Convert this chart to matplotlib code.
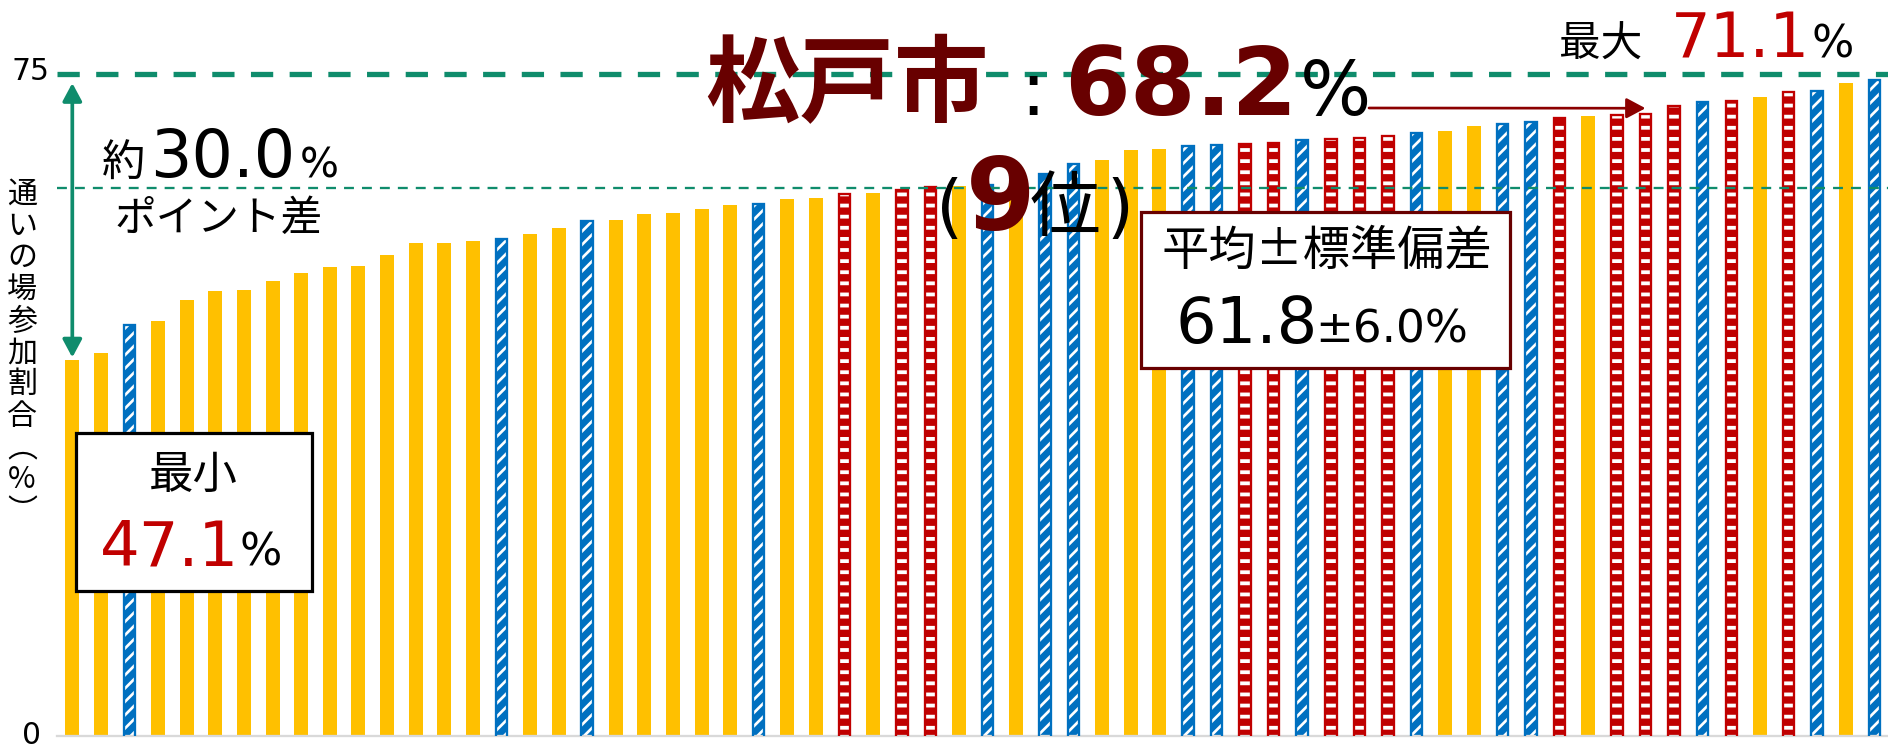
import matplotlib.pyplot as plt
import numpy as np

plt.rcParams['font.family'] = ['Noto Sans CJK JP', 'DejaVu Sans']

# 通いの場参加割合（%）, 市町村を昇順に並べたもの
rates = [47.1, 47.7, 50.1, 50.5, 52.3, 53.0, 53.1, 53.9, 54.6, 55.1,
         55.2, 56.1, 57.1, 57.1, 57.3, 57.5, 57.9, 58.4, 59.0, 59.1,
         59.6, 59.7, 60.0, 60.4, 60.5, 60.9, 61.0, 61.3, 61.4, 61.7,
         61.9, 62.0, 62.1, 62.5, 63.0, 63.9, 64.2, 65.1, 65.2, 65.4,
         65.5, 65.6, 65.7, 65.9, 66.0, 66.1, 66.3, 66.5, 66.7, 67.1,
         67.3, 67.5, 67.8, 68.0, 68.1, 68.2, 68.8, 69.2, 69.3, 69.6,
         70.0, 70.1, 70.8, 71.1]
# 地域区分 (Y: 黄, B: 青斜線, R: 赤横縞)
kinds = list("YYBYYYYYYY" "YYYYYBYYBY" "YYYYBYYRYR" "RYBYBBYYYB"
             "BRRBRRRBYY" "BBRYRRRBRY" "RBYB")

matsudo_rank = 9
mean_rate = 61.8
sd_rate = 6.0
gap_text = "30.0"

# 縦軸: 下端と目盛線の位置、その表示ラベル
axis_ticks = [15, 71.6]
axis_labels = ["0", "75"]

W, H, DPI = 1888, 747, 200
YELLOW, BLUE, RED = "#FFC000", "#0070C0", "#C00000"
TEAL = "#0F8C6C"
DARKRED = "#680000"


def pt(p):
    return p * 72 / DPI


def fpos(x, y):
    return x / W, 1 - y / H


def hatched_bars(ax, xs, ys, color, hatch, hatch_lw):
    # 白い模様を塗りの上に描き、同色の枠で囲む
    with plt.rc_context({"hatch.linewidth": hatch_lw}):
        bars = ax.bar(xs, ys, width=0.40, facecolor=color, edgecolor="white",
                      lw=0, hatch=hatch, zorder=2)
    for b in bars:
        if hasattr(b, "set_hatch_linewidth"):
            b.set_hatch_linewidth(hatch_lw)
    ax.bar(xs, ys, width=0.40, facecolor="none", edgecolor=color,
           lw=pt(2.3), zorder=3)


rates = np.array(rates)
kinds = np.array(kinds)
x = np.arange(len(rates))
matsudo = len(rates) - matsudo_rank

fig = plt.figure(figsize=(W / DPI, H / DPI), dpi=DPI)
ax = fig.add_axes([57 / W, 11 / H, 1 - 57 / W, 736 / H])

m = kinds == "Y"
ax.bar(x[m], rates[m], width=0.49, color=YELLOW, lw=0, zorder=2)
m = kinds == "R"
hatched_bars(ax, x[m], rates[m], RED, "---", pt(3.8))
m = kinds == "B"
hatched_bars(ax, x[m], rates[m], BLUE, "/////", pt(2.7))

ax.set_xlim(-0.535, len(rates) - 0.52)
ax.set_ylim(axis_ticks[0], 77.9)
ax.set_xticks([])
ax.set_yticks([])
for s in ["top", "right", "left"]:
    ax.spines[s].set_visible(False)
ax.spines["bottom"].set_color("#D9D9D9")
ax.spines["bottom"].set_linewidth(pt(2.3))

# 目盛線と平均線
ax.axhline(axis_ticks[1], color=TEAL, lw=pt(5.3), dashes=(4.2, 3.1), zorder=4)
ax.axhline(mean_rate, color=TEAL, lw=pt(2.3), dashes=(4.3, 3.5), zorder=4)

# 最小値と目盛線の差を示す矢印
ax.annotate("", xy=(0, rates[0] + 0.25), xytext=(0, axis_ticks[1] - 0.8),
            arrowprops=dict(arrowstyle="<|-|>,head_length=0.54,head_width=0.29",
                            color=TEAL, lw=pt(3.7), shrinkA=0, shrinkB=0,
                            mutation_scale=10), zorder=5)

NUM = ["DejaVu Sans", "Noto Sans CJK JP"]


def put(x, y, s, **kw):
    kw.setdefault("va", "baseline")
    kw.setdefault("ha", "left")
    return fig.text(*fpos(x, y), s, **kw)


# 縦軸の目盛ラベル
put(50, 80, axis_labels[1], ha="right", family=NUM, fontsize=10.7)
put(41, 744, axis_labels[0], ha="right", family=NUM, fontsize=10.7)

# 縦書きの軸タイトル
ylabel = list("通いの場参加割合") + ["︵", "%", "︶"]
for i, ch in enumerate(ylabel):
    put(22, 191.5 + i * 31.7 + 11.4, ch, ha="center", fontsize=10.8)

# 差のラベル
put(102, 177, "約", fontsize=15.6)
put(150, 177, gap_text, family=NUM, fontsize=23.5)
put(300, 177, "%", family=NUM, fontsize=14.8)
put(219, 219, "ポイント差", ha="center", va="center", fontsize=15)

# 松戸市の値と順位
put(705, 115, "松戸市", fontsize=34, fontweight="bold", color=DARKRED)
put(1020, 115, ":", family=NUM, fontsize=27)
put(1064, 115, f"{rates[matsudo]:.1f}", family=NUM, fontsize=34,
    fontweight="bold", color=DARKRED)
put(1300, 115, "%", family=NUM, fontsize=27)
put(936, 230, "(", family=NUM, fontsize=25)
put(966, 230, str(matsudo_rank), family=NUM, fontsize=36, fontweight="bold",
    color=DARKRED)
put(1030, 230, "位", fontsize=25.5)
put(1106, 230, ")", family=NUM, fontsize=25)
ax.annotate("", xy=(matsudo, rates[matsudo] + 0.45), xycoords="data",
            xytext=fpos(1369, 108), textcoords="figure fraction",
            arrowprops=dict(arrowstyle="-|>,head_length=0.58,head_width=0.31",
                            color="#8B0000", lw=pt(2.7), shrinkA=0, shrinkB=0,
                            mutation_scale=10), zorder=6)

# 平均±標準偏差の枠
bx0, by0, bx1, by1 = 1141, 212, 1510, 368
fig.patches.append(plt.Rectangle(fpos(bx0, by1), (bx1 - bx0) / W, (by1 - by0) / H,
                                 transform=fig.transFigure, facecolor="white",
                                 edgecolor=DARKRED, lw=pt(3.2), zorder=7))
put(1327, 252, "平均±標準偏差", ha="center", va="center", fontsize=17, zorder=8)
put(1176, 343, f"{mean_rate:.1f}", family=NUM, fontsize=23, zorder=8)
put(1315, 343, f"±{sd_rate:.1f}%", family=NUM, fontsize=16.3, zorder=8)

# 最大
put(1559, 57, "最大", fontsize=15)
put(1671, 57, f"{rates.max():.1f}", family=NUM, fontsize=22.5, color=RED)
put(1811, 57, "%", family=NUM, fontsize=16)

# 最小の枠
bx0, by0, bx1, by1 = 76, 433, 312, 591
fig.patches.append(plt.Rectangle(fpos(bx0, by1), (bx1 - bx0) / W, (by1 - by0) / H,
                                 transform=fig.transFigure, facecolor="white",
                                 edgecolor="black", lw=pt(3.2), zorder=7))
put(193, 475, "最小", ha="center", va="center", fontsize=16, zorder=8)
put(100, 565, f"{rates.min():.1f}", family=NUM, fontsize=22.5, color=RED, zorder=8)
put(240, 565, "%", family=NUM, fontsize=16, zorder=8)

fig.savefig("out.png", dpi=DPI)
